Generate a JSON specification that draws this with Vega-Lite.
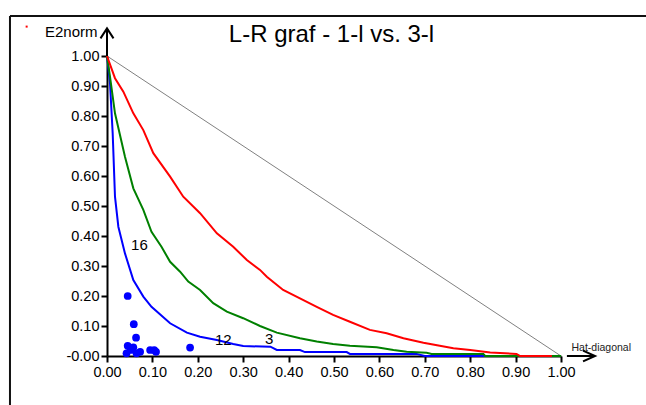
{
  "$schema": "https://vega.github.io/schema/vega-lite/v6.json",
  "autosize": {"type": "none"},
  "width": 454,
  "height": 300,
  "padding": {"left": 107, "top": 56, "right": 85, "bottom": 49},
  "background": "white",
  "resolve": {"axis": {"x": "independent", "y": "independent"}},
  "config": {
    "view": {"stroke": null},
    "axis": {"grid": false, "ticks": true, "labelOverlap": false, "labelFlush": false, "labelFont": "Liberation Sans", "labelFontSize": 14.5, "labelColor": "black", "tickColor": "black", "domainColor": "black", "tickWidth": 2, "domainWidth": 2, "tickSize": 6, "titleFont": "Liberation Sans", "titleFontWeight": "normal", "titleColor": "black"}
  },
  "datasets": {
    "red": [
      {"h": 0, "e": 1}, {"h": 0.0176, "e": 0.926}, {"h": 0.036, "e": 0.881}, {"h": 0.058, "e": 0.809}, {"h": 0.08, "e": 0.753}, {"h": 0.102, "e": 0.676}, {"h": 0.139, "e": 0.598}, {"h": 0.168, "e": 0.531}, {"h": 0.205, "e": 0.476}, {"h": 0.242, "e": 0.409}, {"h": 0.278, "e": 0.364}, {"h": 0.308, "e": 0.32}, {"h": 0.337, "e": 0.287}, {"h": 0.352, "e": 0.264}, {"h": 0.388, "e": 0.22}, {"h": 0.425, "e": 0.192}, {"h": 0.462, "e": 0.164}, {"h": 0.498, "e": 0.137}, {"h": 0.535, "e": 0.114}, {"h": 0.579, "e": 0.087}, {"h": 0.616, "e": 0.076}, {"h": 0.653, "e": 0.059}, {"h": 0.697, "e": 0.044}, {"h": 0.733, "e": 0.034}, {"h": 0.763, "e": 0.026}, {"h": 0.8, "e": 0.02}, {"h": 0.844, "e": 0.012}, {"h": 0.902, "e": 0.007}, {"h": 0.91, "e": 0}, {"h": 0.98, "e": 0}
    ],
    "green": [
      {"h": 0, "e": 1}, {"h": 0.0066, "e": 0.931}, {"h": 0.0176, "e": 0.809}, {"h": 0.0396, "e": 0.664}, {"h": 0.058, "e": 0.559}, {"h": 0.08, "e": 0.487}, {"h": 0.098, "e": 0.414}, {"h": 0.12, "e": 0.364}, {"h": 0.139, "e": 0.314}, {"h": 0.161, "e": 0.281}, {"h": 0.179, "e": 0.248}, {"h": 0.205, "e": 0.22}, {"h": 0.234, "e": 0.176}, {"h": 0.264, "e": 0.148}, {"h": 0.3, "e": 0.126}, {"h": 0.337, "e": 0.1}, {"h": 0.374, "e": 0.078}, {"h": 0.425, "e": 0.059}, {"h": 0.462, "e": 0.048}, {"h": 0.498, "e": 0.04}, {"h": 0.535, "e": 0.034}, {"h": 0.594, "e": 0.029}, {"h": 0.631, "e": 0.02}, {"h": 0.66, "e": 0.014}, {"h": 0.704, "e": 0.011}, {"h": 0.715, "e": 0.007}, {"h": 0.829, "e": 0.007}, {"h": 0.833, "e": 0}, {"h": 1, "e": 0}
    ],
    "blue": [
      {"h": 0, "e": 1}, {"h": 0.0066, "e": 0.91}, {"h": 0.0125, "e": 0.743}, {"h": 0.0176, "e": 0.531}, {"h": 0.025, "e": 0.431}, {"h": 0.0396, "e": 0.342}, {"h": 0.058, "e": 0.253}, {"h": 0.08, "e": 0.198}, {"h": 0.098, "e": 0.164}, {"h": 0.139, "e": 0.109}, {"h": 0.176, "e": 0.078}, {"h": 0.205, "e": 0.064}, {"h": 0.242, "e": 0.053}, {"h": 0.278, "e": 0.04}, {"h": 0.3, "e": 0.033}, {"h": 0.36, "e": 0.031}, {"h": 0.374, "e": 0.02}, {"h": 0.425, "e": 0.02}, {"h": 0.436, "e": 0.013}, {"h": 0.528, "e": 0.013}, {"h": 0.535, "e": 0.007}, {"h": 0.682, "e": 0.007}, {"h": 0.7, "e": 0}, {"h": 1, "e": 0}
    ],
    "obs": [
      {"h": 0.0456, "e": 0.2}, {"h": 0.059, "e": 0.106}, {"h": 0.064, "e": 0.061}, {"h": 0.0456, "e": 0.034}, {"h": 0.043, "e": 0.009}, {"h": 0.052, "e": 0.02}, {"h": 0.058, "e": 0.029}, {"h": 0.065, "e": 0.009}, {"h": 0.073, "e": 0.014}, {"h": 0.095, "e": 0.02}, {"h": 0.104, "e": 0.02}, {"h": 0.108, "e": 0.014}, {"h": 0.183, "e": 0.028}
    ],
    "labels": [
      {"h": 0.0715, "e": 0.37, "t": "16"}, {"h": 0.256, "e": 0.052, "t": "12"}, {"h": 0.357, "e": 0.057, "t": "3"}
    ],
    "diag": [{"h": 0, "e": 1}, {"h": 1, "e": 0}]
  },
  "layer": [
    {
      "data": {"name": "diag"},
      "mark": {"type": "line", "color": "#808080", "strokeWidth": 1},
      "encoding": {
        "x": {"field": "h", "type": "quantitative", "scale": {"domain": [0, 1], "nice": false, "zero": false},
          "axis": {"values": [0, 0.1, 0.2, 0.3, 0.4, 0.5, 0.6, 0.7, 0.8, 0.9, 1], "format": ".2f", "labelPadding": 3, "labelFlush": false, "labelOverlap": false, "ticks": true, "title": "Hat-diagonal", "titleFontSize": 10.5, "titleX": 464, "titleY": -6, "titleAlign": "left", "titleBaseline": "alphabetic", "titleAnchor": null, "titleColor": "#222"}},
        "y": {"field": "e", "type": "quantitative", "scale": {"domain": [0, 1], "nice": false, "zero": false},
          "axis": {"values": [0, 0.1, 0.2, 0.3, 0.4, 0.5, 0.6, 0.7, 0.8, 0.9, 1], "labelExpr": "datum.value == 0 ? '-0.00' : format(datum.value, '.2f')", "labelPadding": 2, "labelFlush": false, "labelOverlap": false, "ticks": true, "title": "E2norm", "titleFontSize": 15, "titleAngle": 0, "titleX": -10, "titleY": -20, "titleAlign": "right", "titleBaseline": "alphabetic", "titleAnchor": null}}
      }
    },
    {
      "data": {"name": "blue"},
      "mark": {"type": "line", "color": "#0000ff", "strokeWidth": 2},
      "encoding": {"x": {"field": "h", "type": "quantitative", "axis": null}, "y": {"field": "e", "type": "quantitative", "axis": null}}
    },
    {
      "data": {"name": "green"},
      "mark": {"type": "line", "color": "#008000", "strokeWidth": 2},
      "encoding": {"x": {"field": "h", "type": "quantitative", "axis": null}, "y": {"field": "e", "type": "quantitative", "axis": null}}
    },
    {
      "data": {"name": "red"},
      "mark": {"type": "line", "color": "#ff0000", "strokeWidth": 2},
      "encoding": {"x": {"field": "h", "type": "quantitative", "axis": null}, "y": {"field": "e", "type": "quantitative", "axis": null}}
    },
    {
      "data": {"name": "obs"},
      "mark": {"type": "point", "shape": "circle", "filled": true, "color": "#0000ff", "size": 60, "opacity": 1},
      "encoding": {"x": {"field": "h", "type": "quantitative", "axis": null}, "y": {"field": "e", "type": "quantitative", "axis": null}}
    },
    {
      "data": {"name": "labels"},
      "mark": {"type": "text", "font": "Liberation Sans", "fontSize": 15, "color": "black", "align": "center", "baseline": "middle"},
      "encoding": {"x": {"field": "h", "type": "quantitative", "axis": null}, "y": {"field": "e", "type": "quantitative", "axis": null}, "text": {"field": "t"}}
    },
    {
      "data": {"values": [{"title": "L-R graf - 1-l vs. 3-l"}]},
      "mark": {"type": "text", "font": "Liberation Sans", "fontSize": 24, "color": "black", "align": "center", "baseline": "alphabetic"},
      "encoding": {"x": {"datum": 0.4945, "type": "quantitative", "axis": null}, "y": {"datum": 1.0467, "type": "quantitative", "axis": null}, "text": {"field": "title"}}
    },
    {
      "data": {"values": [{}]},
      "mark": {"type": "rule", "color": "black", "strokeWidth": 2},
      "encoding": {"x": {"datum": 0, "type": "quantitative", "axis": null}, "y": {"datum": 1, "type": "quantitative", "axis": null}, "y2": {"datum": 1.092}}
    },
    {
      "data": {"values": [{}]},
      "mark": {"type": "point", "shape": "M-0.65,1L0,0L0.65,1", "filled": false, "stroke": "black", "strokeWidth": 2, "size": 400, "opacity": 1},
      "encoding": {"x": {"datum": 0, "type": "quantitative", "axis": null}, "y": {"datum": 1.092, "type": "quantitative", "axis": null}}
    },
    {
      "data": {"values": [{}]},
      "mark": {"type": "rule", "color": "black", "strokeWidth": 2},
      "encoding": {"x": {"datum": 1.013, "type": "quantitative", "axis": null}, "x2": {"datum": 1.075}, "y": {"datum": 0, "type": "quantitative", "axis": null}}
    },
    {
      "data": {"values": [{}]},
      "mark": {"type": "point", "shape": "M-1,-0.45L0,0L-1,0.45", "filled": false, "stroke": "black", "strokeWidth": 2, "size": 576, "opacity": 1},
      "encoding": {"x": {"datum": 1.075, "type": "quantitative", "axis": null}, "y": {"datum": 0, "type": "quantitative", "axis": null}}
    },
    {
      "data": {"values": [{}]},
      "mark": {"type": "rule", "color": "#111", "strokeWidth": 2},
      "encoding": {"x": {"datum": -0.2137, "type": "quantitative", "axis": null}, "x2": {"datum": 1.3}, "y": {"datum": 1.1333, "type": "quantitative", "axis": null}}
    },
    {
      "data": {"values": [{}]},
      "mark": {"type": "rule", "color": "#111", "strokeWidth": 2},
      "encoding": {"x": {"datum": -0.2137, "type": "quantitative", "axis": null}, "y": {"datum": -0.2, "type": "quantitative", "axis": null}, "y2": {"datum": 1.1333}}
    },
    {
      "data": {"values": [{}]},
      "mark": {"type": "square", "color": "#ff0000", "size": 4, "opacity": 1},
      "encoding": {"x": {"datum": -0.177, "type": "quantitative", "axis": null}, "y": {"datum": 1.098, "type": "quantitative", "axis": null}}
    }
  ]
}
